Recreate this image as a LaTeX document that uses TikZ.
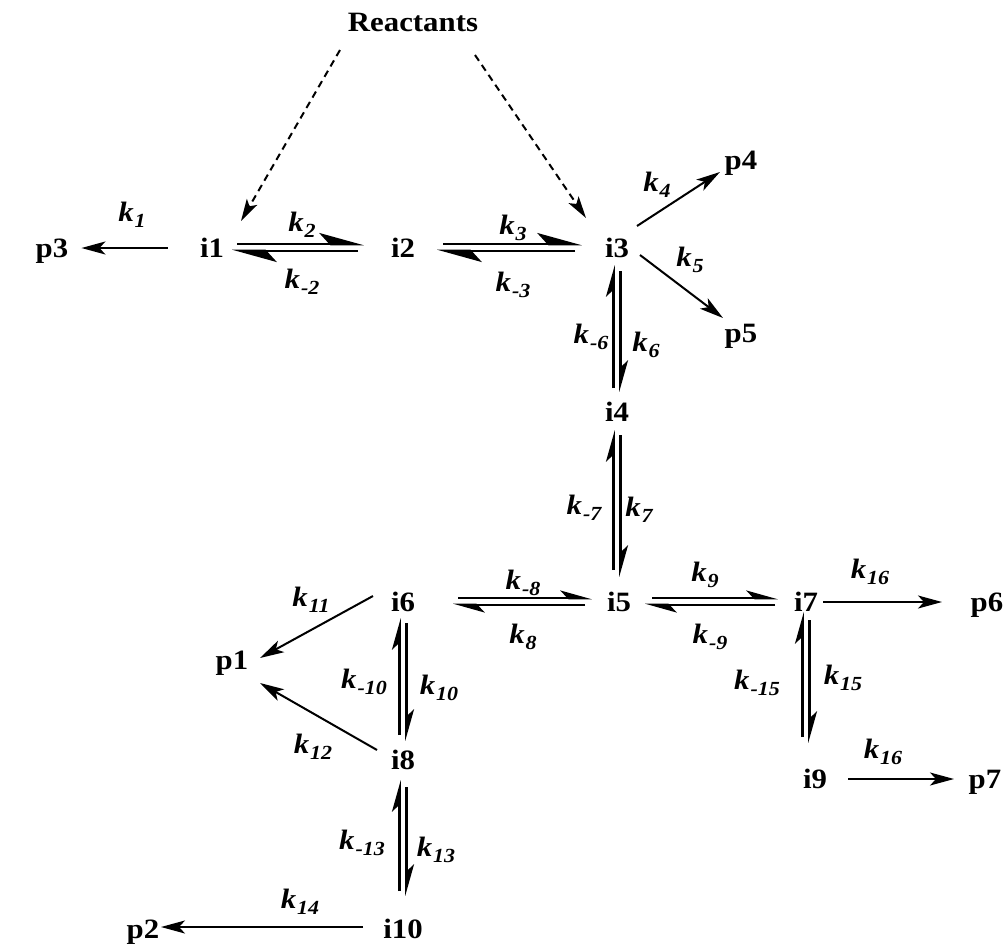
\documentclass[tikz,border=0pt]{standalone}
\usepackage{fontspec}
\setmainfont{Liberation Serif}[FakeStretch=1.1]
\usetikzlibrary{arrows.meta}
\newcommand\kk[1]{\textbf{\textit{k}}\kern1pt\raisebox{-6pt}{\fontsize{20}{20}\selectfont\bfseries\itshape #1}}
\begin{document}
\begin{tikzpicture}[x=1pt,y=-1pt,
  lbl/.style={inner sep=0pt, text height=19pt, text depth=0pt, font=\fontsize{28}{31}\selectfont\bfseries},
  klab/.style={inner sep=0pt, text height=19pt, text depth=6pt, font=\fontsize{28}{31}\selectfont\bfseries\itshape},
  eqbig/.style={line width=2.6pt, -{Stealth[harpoon,length=40pt,width=22pt,inset=10pt]}},
  eqsm/.style={line width=2.6pt, -{Stealth[harpoon,length=27pt,width=15pt,inset=7pt]}},
  rx/.style={line width=2pt, -{Stealth[length=24pt,width=13pt,inset=6pt]}},
  dsh/.style={line width=2pt, dash pattern=on 7pt off 5pt, -{Stealth[length=22pt,width=12pt,inset=5pt]}}]
\useasboundingbox (0,0) rectangle (1005,946);
% species
\node[lbl] (R) at (413,22) {Reactants};
\node[lbl] (p3) at (52,248) {p3};
\node[lbl] (i1) at (212,248) {i1};
\node[lbl] (i2) at (403,248) {i2};
\node[lbl] (i3) at (617,248) {i3};
\node[lbl] (p4) at (741,160) {p4};
\node[lbl] (p5) at (741,333) {p5};
\node[lbl] (i4) at (617,412) {i4};
\node[lbl] (i5) at (619,602) {i5};
\node[lbl] (i6) at (403,602) {i6};
\node[lbl] (i7) at (806,602) {i7};
\node[lbl] (p6) at (987,602) {p6};
\node[lbl] (p1) at (232,660) {p1};
\node[lbl] (i8) at (403,760) {i8};
\node[lbl] (i9) at (815,779) {i9};
\node[lbl] (p7) at (985,779) {p7};
\node[lbl] (i10) at (403,929) {i10};
\node[lbl] (p2) at (143,929) {p2};
% rate constants
\node[klab] (k1) at (132,215) {\kk{1}};
\node[klab] (k2) at (302,225) {\kk{2}};
\node[klab] (km2) at (302,282) {\kk{-2}};
\node[klab] (k3) at (513,228) {\kk{3}};
\node[klab] (km3) at (513,285) {\kk{-3}};
\node[klab] (k4) at (657,185) {\kk{4}};
\node[klab] (k5) at (690,260) {\kk{5}};
\node[klab] (km6) at (591,337) {\kk{-6}};
\node[klab] (k6) at (646,345) {\kk{6}};
\node[klab] (km7) at (584,508) {\kk{-7}};
\node[klab] (k7) at (639,510) {\kk{7}};
\node[klab] (km8) at (523,583) {\kk{-8}};
\node[klab] (k8) at (523,637) {\kk{8}};
\node[klab] (k9) at (705,575) {\kk{9}};
\node[klab] (km9) at (710,637) {\kk{-9}};
\node[klab] (k11) at (311,600) {\kk{11}};
\node[klab] (km10) at (364,682) {\kk{-10}};
\node[klab] (k10) at (439,688) {\kk{10}};
\node[klab] (k12) at (313,747) {\kk{12}};
\node[klab] (km13) at (362,843) {\kk{-13}};
\node[klab] (k13) at (436,850) {\kk{13}};
\node[klab] (k14) at (300,902) {\kk{14}};
\node[klab] (k16a) at (870,572) {\kk{16}};
\node[klab] (km15) at (757,683) {\kk{-15}};
\node[klab] (k15) at (843,678) {\kk{15}};
\node[klab] (k16b) at (883,752) {\kk{16}};
% dashed feeds
\draw[dsh] ([xshift=-73pt,yshift=-28pt]R.center) -- ([xshift=29pt,yshift=27pt]i1.center);
\draw[dsh] ([xshift=62pt,yshift=-33pt]R.center) -- ([xshift=-31pt,yshift=30pt]i3.center);
% i1 <-> i2
\draw[eqbig, shorten <=25pt, shorten >=39pt] ([yshift=4pt]i1.center) -- ([yshift=4pt]i2.center);
\draw[eqbig, shorten <=45pt, shorten >=20pt] ([yshift=-3pt]i2.center) -- ([yshift=-3pt]i1.center);
% i2 <-> i3
\draw[eqbig, shorten <=40pt, shorten >=35pt] ([yshift=4pt]i2.center) -- ([yshift=4pt]i3.center);
\draw[eqbig, shorten <=42pt, shorten >=34pt] ([yshift=-3pt]i3.center) -- ([yshift=-3pt]i2.center);
% i1 -> p3
\draw[rx, shorten <=32pt, shorten >=13pt] (i1) -- (p3);
% i3 -> p4, p5
\draw[rx] ([xshift=20pt,yshift=22pt]i3.center) -- ([xshift=-21pt,yshift=-12pt]p4.center);
\draw[rx] ([xshift=23pt,yshift=-7pt]i3.center) -- ([xshift=-18pt,yshift=15pt]p5.center);
% i3 <-> i4
\draw[eqsm, shorten <=24pt, shorten >=17pt] ([xshift=-3.5pt]i4.center) -- ([xshift=-3.5pt]i3.center);
\draw[eqsm, shorten <=23pt, shorten >=20pt] ([xshift=3.5pt]i3.center) -- ([xshift=3.5pt]i4.center);
% i4 <-> i5
\draw[eqsm, shorten <=32pt, shorten >=18pt] ([xshift=-3.5pt]i4.center |- i5.center) -- ([xshift=-3.5pt]i4.center);
\draw[eqsm, shorten <=23pt, shorten >=25pt] ([xshift=3.5pt]i4.center) -- ([xshift=3.5pt]i4.center |- i5.center);
% i6 <-> i5
\draw[eqsm, shorten <=55pt, shorten >=27pt] ([yshift=4pt]i6.center) -- ([yshift=4pt]i5.center);
\draw[eqsm, shorten <=34pt, shorten >=50pt] ([yshift=-3pt]i5.center) -- ([yshift=-3pt]i6.center);
% i5 <-> i7
\draw[eqsm, shorten <=33pt, shorten >=28pt] ([yshift=4pt]i5.center) -- ([yshift=4pt]i7.center);
\draw[eqsm, shorten <=31pt, shorten >=26pt] ([yshift=-3pt]i7.center) -- ([yshift=-3pt]i5.center);
% i7 -> p6
\draw[rx, shorten <=17pt, shorten >=45pt] (i7.center) -- (p6.center);
% i7 <-> i9
\draw[eqsm, shorten <=42pt, shorten >=10pt] ([xshift=-3.5pt]i7.center |- i9.center) -- ([xshift=-3.5pt]i7.center);
\draw[eqsm, shorten <=18pt, shorten >=36pt] ([xshift=3.5pt]i7.center) -- ([xshift=3.5pt]i7.center |- i9.center);
% i9 -> p7
\draw[rx, shorten <=33pt, shorten >=31pt] (i9.center) -- (p7.center);
% i6 <-> i8
\draw[eqsm, shorten <=25pt, shorten >=16pt] ([xshift=-3.5pt]i8.center) -- ([xshift=-3.5pt]i6.center);
\draw[eqsm, shorten <=21pt, shorten >=19pt] ([xshift=3.5pt]i6.center) -- ([xshift=3.5pt]i8.center);
% i8 <-> i10
\draw[eqsm, shorten <=38pt, shorten >=20pt] ([xshift=-3.5pt]i10.center) -- ([xshift=-3.5pt]i8.center);
\draw[eqsm, shorten <=27pt, shorten >=33pt] ([xshift=3.5pt]i8.center) -- ([xshift=3.5pt]i10.center);
% to p1
\draw[rx] ([xshift=-30pt,yshift=6pt]i6.center) -- ([xshift=28pt,yshift=2pt]p1.center);
\draw[rx] ([xshift=-26pt,yshift=10pt]i8.center) -- ([xshift=28pt,yshift=-23pt]p1.center);
% i10 -> p2
\draw[rx, shorten <=40pt, shorten >=18pt] ([yshift=2pt]i10.center) -- ([yshift=2pt]p2.center);
\end{tikzpicture}
\end{document}
